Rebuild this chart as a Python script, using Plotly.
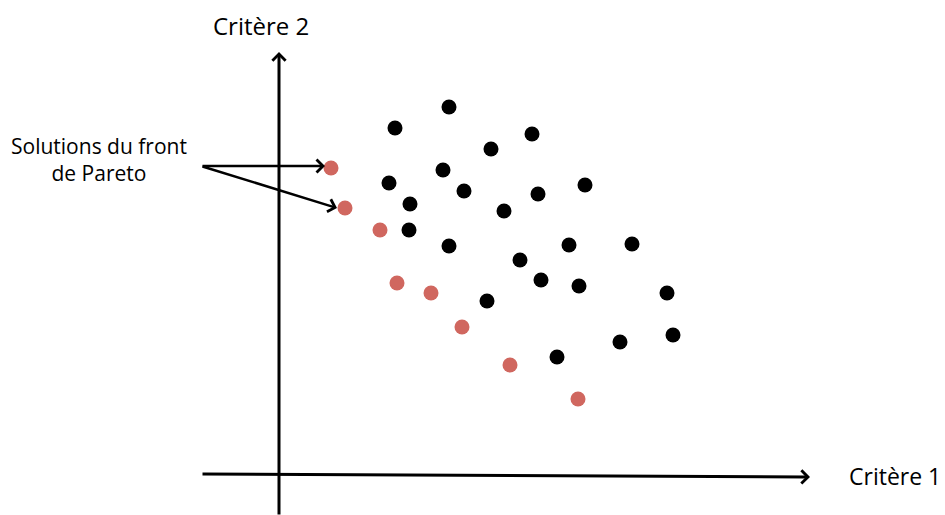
import plotly.graph_objects as go

# Pareto-front solutions (Critère 1, Critère 2)
pareto_x = [5.2, 6.6, 10.1, 11.8, 15.2, 18.3, 23.1, 29.9]
pareto_y = [30.6, 26.6, 24.4, 19.1, 18.1, 14.7, 10.9, 7.5]

# Dominated solutions
other_x = [17.0, 11.6, 25.3, 21.2, 16.4, 11.0, 18.5, 25.9, 30.6, 13.1, 22.5, 13.0,
           17.0, 29.0, 35.3, 24.1, 26.2, 30.0, 38.8, 20.8, 39.4, 34.1, 27.8]
other_y = [36.7, 34.6, 34.0, 32.5, 30.4, 29.1, 28.3, 28.0, 28.9, 27.0, 26.3, 24.4,
           22.8, 22.9, 23.0, 21.4, 19.4, 18.8, 18.1, 17.3, 13.9, 13.2, 11.7]

x_label = "Critère 1"
y_label = "Critère 2"
note_label = "Solutions du front<br>de Pareto"

FONT = "Open Sans"
RED = "#D0675F"

fig = go.Figure()
fig.add_trace(go.Scatter(x=other_x, y=other_y, mode="markers",
                         marker=dict(color="black", size=15, line=dict(width=0)),
                         showlegend=False, hoverinfo="skip"))
fig.add_trace(go.Scatter(x=pareto_x, y=pareto_y, mode="markers",
                         marker=dict(color=RED, size=15, line=dict(width=0)),
                         showlegend=False, hoverinfo="skip"))

annotations = [
    # vertical axis arrow
    dict(x=0, y=42.2, ax=0, ay=-4.2, xref="x", yref="y", axref="x", ayref="y",
         text="", showarrow=True, arrowhead=4, arrowsize=0.85, arrowwidth=3, arrowcolor="black"),
    # horizontal axis arrow
    dict(x=53.1, y=-0.3, ax=-7.8, ay=0, xref="x", yref="y", axref="x", ayref="y",
         text="", showarrow=True, arrowhead=4, arrowsize=0.85, arrowwidth=3, arrowcolor="black"),
    # pointer arrows
    dict(x=4.6, y=30.8, ax=-7.8, ay=30.8, xref="x", yref="y", axref="x", ayref="y",
         text="", showarrow=True, arrowhead=4, arrowsize=1.0, arrowwidth=2.5, arrowcolor="black"),
    dict(x=5.8, y=26.6, ax=-7.8, ay=30.8, xref="x", yref="y", axref="x", ayref="y",
         text="", showarrow=True, arrowhead=4, arrowsize=1.0, arrowwidth=2.5, arrowcolor="black"),
    # labels
    dict(x=-1.8, y=44.9, xref="x", yref="y", text=y_label, showarrow=False,
         font=dict(family=FONT, size=24, color="black"), xanchor="center", yanchor="middle"),
    dict(x=56.8, y=-0.2, xref="x", yref="y", text=x_label, showarrow=False,
         font=dict(family=FONT, size=23, color="black"), xanchor="left", yanchor="middle"),
    dict(x=-18.0, y=31.5, xref="x", yref="y", text=note_label, showarrow=False,
         font=dict(family=FONT, size=21, color="black"), xanchor="center", yanchor="middle",
         align="center"),
]

fig.update_layout(
    width=945, height=515,
    margin=dict(l=0, r=0, t=0, b=0),
    paper_bgcolor="white", plot_bgcolor="white",
    xaxis=dict(range=[-27.9, 66.6], visible=False, fixedrange=True),
    yaxis=dict(range=[-4.1, 47.4], visible=False, fixedrange=True),
    annotations=annotations,
)

fig.write_html("out.html", config={"displayModeBar": False},
               post_script="document.body.style.margin='0';document.body.style.overflow='hidden';")
